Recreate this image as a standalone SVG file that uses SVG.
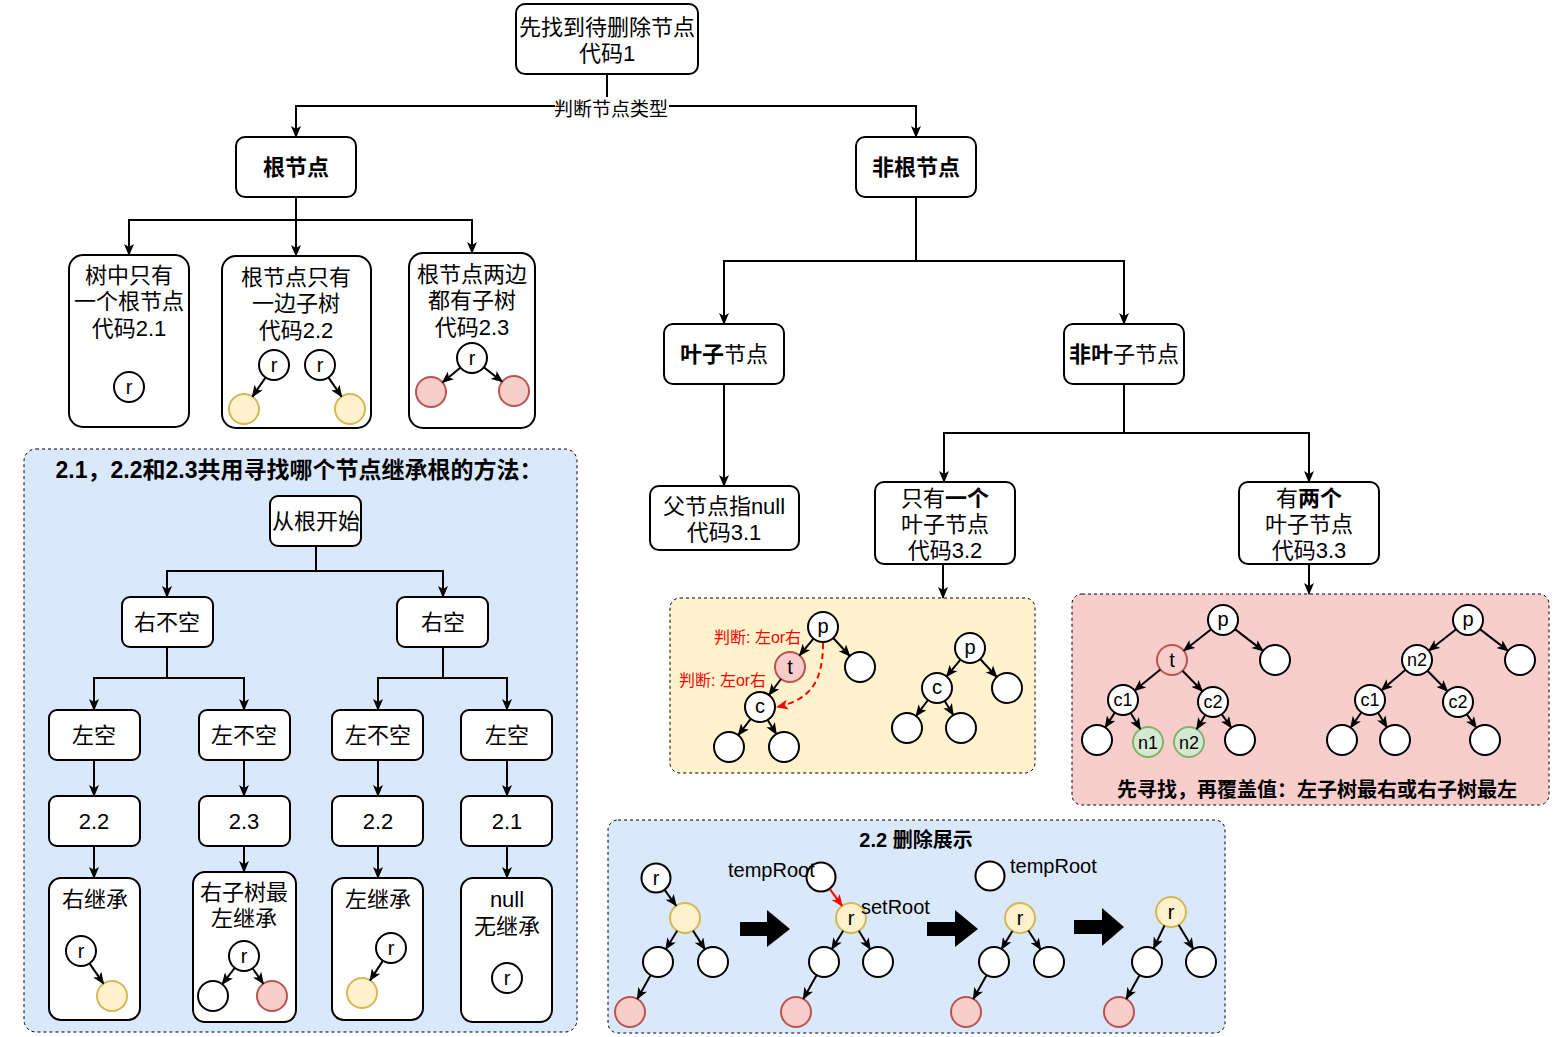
<svg xmlns="http://www.w3.org/2000/svg" width="1556" height="1037" viewBox="0 0 1556 1037">
<defs>
<marker id="arr" markerUnits="userSpaceOnUse" markerWidth="12" markerHeight="10" viewBox="0 0 12 10" refX="11" refY="5" orient="auto"><path d="M0,0 L12,5 L0,10 L3,5 z" fill="#000"/></marker>
<marker id="arrRed" markerUnits="userSpaceOnUse" markerWidth="12" markerHeight="10" viewBox="0 0 12 10" refX="11" refY="5" orient="auto"><path d="M0,0 L12,5 L0,10 L3,5 z" fill="#ff0000"/></marker>
<style>
.box{fill:#fff;stroke:#000;stroke-width:2}
.t{font-family:"Liberation Sans","Noto Sans CJK SC",sans-serif;font-size:22px;text-anchor:middle;dominant-baseline:central;fill:#000}
.s{font-size:20px}
.xs{font-size:18px}
.b{font-weight:bold}
.st{text-anchor:start}
.red{fill:#ff0000;font-size:16px}
.edge{fill:none;stroke:#000;stroke-width:2;marker-end:url(#arr)}
.redge{fill:none;stroke:#ff0000;stroke-width:2;marker-end:url(#arrRed)}
.nd{fill:#fff;stroke:#000;stroke-width:2}
.yl{fill:#fff2cc;stroke:#d6b656;stroke-width:2}
.pk{fill:#f8cecc;stroke:#b85450;stroke-width:2}
.gr{fill:#d5e8d4;stroke:#82b366;stroke-width:2}
.panel{stroke:#000;stroke-width:1;stroke-dasharray:3 3}
</style>
</defs>
<rect width="1556" height="1037" fill="#fff"/>

<!-- panels -->
<g id="panel-common"><rect class="panel" x="24" y="449" width="553" height="583" rx="12" fill="#dae8fc"/>
<text class="t b" x="299" y="470" style="font-size:23px">2.1，2.2和2.3共用寻找哪个节点继承根的方法：</text></g>
<g id="panel-one"><rect class="panel" x="670" y="598" width="365" height="175" rx="10" fill="#fff2cc"/></g>
<g id="panel-two"><rect class="panel" x="1072" y="594" width="477" height="211" rx="10" fill="#f8cecc"/>
<text class="t b" x="1317" y="790" style="font-size:20px">先寻找，再覆盖值：左子树最右或右子树最左</text></g>
<g id="panel-demo"><rect class="panel" x="608" y="820" width="617" height="213" rx="10" fill="#dae8fc"/>
<text class="t b" x="916" y="840" style="font-size:20px">2.2 删除展示</text></g>

<!-- main flow nodes -->
<g id="n-start"><rect class="box" x="516" y="4" width="182" height="70" rx="9"/><text class="t" x="607" y="27">先找到待删除节点</text><text class="t" x="607" y="53">代码1</text></g>
<g id="n-root"><rect class="box" x="236" y="137" width="120" height="60" rx="9"/><text class="t b" x="296" y="167">根节点</text></g>
<g id="n-nonroot"><rect class="box" x="856" y="137" width="120" height="60" rx="9"/><text class="t b" x="916" y="167">非根节点</text></g>
<g id="n-21"><rect class="box" x="69" y="255" width="120" height="172" rx="14"/><text class="t" x="129" y="275">树中只有</text><text class="t" x="129" y="301">一个根节点</text><text class="t" x="129" y="328">代码2.1</text><circle class="nd" cx="129" cy="387" r="15"/><text class="t s" x="129" y="387">r</text></g>
<g id="n-22"><rect class="box" x="222" y="256" width="149" height="172" rx="14"/><text class="t" x="296" y="277">根节点只有</text><text class="t" x="296" y="303">一边子树</text><text class="t" x="296" y="330">代码2.2</text>
<circle class="nd" cx="274" cy="365" r="15"/><text class="t s" x="274" y="365">r</text><circle class="nd" cx="320" cy="365" r="15"/><text class="t s" x="320" y="365">r</text>
<circle class="yl" cx="244" cy="409" r="15"/><circle class="yl" cx="350" cy="409" r="15"/></g>
<g id="n-23"><rect class="box" x="409" y="253" width="126" height="175" rx="14"/><text class="t" x="472" y="274">根节点两边</text><text class="t" x="472" y="300">都有子树</text><text class="t" x="472" y="327">代码2.3</text>
<circle class="nd" cx="472" cy="358" r="15"/><text class="t s" x="472" y="358">r</text><circle class="pk" cx="431" cy="392" r="15"/><circle class="pk" cx="514" cy="391" r="15"/></g>
<g id="n-leaf"><rect class="box" x="664" y="324" width="120" height="60" rx="9"/><text class="t" x="724" y="354"><tspan class="b">叶子</tspan>节点</text></g>
<g id="n-nonleaf"><rect class="box" x="1064" y="324" width="120" height="60" rx="9"/><text class="t" x="1124" y="354"><tspan class="b">非叶</tspan>子节点</text></g>
<g id="n-31"><rect class="box" x="650" y="486" width="149" height="64" rx="9"/><text class="t" x="724" y="506">父节点指null</text><text class="t" x="724" y="532">代码3.1</text></g>
<g id="n-32"><rect class="box" x="875" y="482" width="140" height="82" rx="9"/><text class="t" x="945" y="498">只有<tspan class="b">一个</tspan></text><text class="t" x="945" y="524">叶子节点</text><text class="t" x="945" y="550">代码3.2</text></g>
<g id="n-33"><rect class="box" x="1239" y="482" width="140" height="82" rx="9"/><text class="t" x="1309" y="498">有<tspan class="b">两个</tspan></text><text class="t" x="1309" y="524">叶子节点</text><text class="t" x="1309" y="550">代码3.3</text></g>

<!-- left panel nodes -->
<g id="c-from"><rect class="box" x="270" y="496" width="91" height="50" rx="8"/><text class="t" x="316" y="521">从根开始</text></g>
<g id="c-rnot"><rect class="box" x="122" y="597" width="91" height="50" rx="8"/><text class="t" x="167" y="622">右不空</text></g>
<g id="c-r"><rect class="box" x="397" y="597" width="91" height="50" rx="8"/><text class="t" x="443" y="622">右空</text></g>
<g id="c-a1"><rect class="box" x="49" y="710" width="91" height="50" rx="8"/><text class="t" x="94" y="735">左空</text></g>
<g id="c-a2"><rect class="box" x="199" y="710" width="91" height="50" rx="8"/><text class="t" x="244" y="735">左不空</text></g>
<g id="c-a3"><rect class="box" x="332" y="710" width="91" height="50" rx="8"/><text class="t" x="378" y="735">左不空</text></g>
<g id="c-a4"><rect class="box" x="461" y="710" width="91" height="50" rx="8"/><text class="t" x="507" y="735">左空</text></g>
<g id="c-b1"><rect class="box" x="49" y="796" width="91" height="50" rx="8"/><text class="t" x="94" y="821">2.2</text></g>
<g id="c-b2"><rect class="box" x="199" y="796" width="91" height="50" rx="8"/><text class="t" x="244" y="821">2.3</text></g>
<g id="c-b3"><rect class="box" x="332" y="796" width="91" height="50" rx="8"/><text class="t" x="378" y="821">2.2</text></g>
<g id="c-b4"><rect class="box" x="461" y="796" width="91" height="50" rx="8"/><text class="t" x="507" y="821">2.1</text></g>
<g id="c-c1"><rect class="box" x="49" y="878" width="91" height="142" rx="12"/><text class="t" x="95" y="899">右继承</text>
<circle class="nd" cx="81" cy="951" r="15"/><text class="t s" x="81" y="951">r</text><circle class="yl" cx="112" cy="996" r="15"/></g>
<g id="c-c2"><rect class="box" x="193" y="872" width="103" height="150" rx="12"/><text class="t" x="244" y="892">右子树最</text><text class="t" x="244" y="918">左继承</text>
<circle class="nd" cx="244" cy="956" r="15"/><text class="t s" x="244" y="956">r</text><circle class="nd" cx="213" cy="996" r="15"/><circle class="pk" cx="272" cy="996" r="15"/></g>
<g id="c-c3"><rect class="box" x="332" y="878" width="91" height="142" rx="12"/><text class="t" x="378" y="899">左继承</text>
<circle class="nd" cx="391" cy="948" r="15"/><text class="t s" x="391" y="948">r</text><circle class="yl" cx="362" cy="993" r="15"/></g>
<g id="c-c4"><rect class="box" x="461" y="878" width="91" height="144" rx="12"/><text class="t" x="507" y="899">null</text><text class="t" x="507" y="926">无继承</text>
<circle class="nd" cx="507" cy="978" r="15"/><text class="t s" x="507" y="978">r</text></g>

<!-- yellow panel trees -->
<g id="y-p"><circle class="nd" cx="823" cy="627" r="15"/><text class="t s" x="823" y="626">p</text></g>
<g id="y-t"><circle class="pk" cx="790" cy="667" r="15"/><text class="t s" x="790" y="667">t</text></g>
<g id="y-pr"><circle class="nd" cx="860" cy="667" r="15"/></g>
<g id="y-c"><circle class="nd" cx="760" cy="707" r="15"/><text class="t s" x="760" y="706">c</text></g>
<g id="y-cl"><circle class="nd" cx="729" cy="747" r="15"/></g>
<g id="y-cr"><circle class="nd" cx="784" cy="747" r="15"/></g>
<g id="y-l1"><text class="t red st" x="714" y="637">判断: 左or右</text></g>
<g id="y-l2"><text class="t red st" x="679" y="680">判断: 左or右</text></g>
<g id="y2-p"><circle class="nd" cx="970" cy="648" r="15"/><text class="t s" x="970" y="647">p</text></g>
<g id="y2-c"><circle class="nd" cx="937" cy="688" r="15"/><text class="t s" x="937" y="687">c</text></g>
<g id="y2-pr"><circle class="nd" cx="1007" cy="688" r="15"/></g>
<g id="y2-cl"><circle class="nd" cx="907" cy="728" r="15"/></g>
<g id="y2-cr"><circle class="nd" cx="961" cy="728" r="15"/></g>

<!-- pink panel trees -->
<g id="k-p"><circle class="nd" cx="1223" cy="620" r="15"/><text class="t s" x="1223" y="619">p</text></g>
<g id="k-t"><circle cx="1172" cy="660" r="15" fill="#f8cecc" stroke="#b85450" stroke-width="2"/><text class="t s" x="1172" y="660">t</text></g>
<g id="k-pr"><circle class="nd" cx="1275" cy="660" r="15"/></g>
<g id="k-c1"><circle class="nd" cx="1123" cy="700" r="15"/><text class="t xs" x="1123" y="700">c1</text></g>
<g id="k-c2"><circle class="nd" cx="1213" cy="702" r="15"/><text class="t xs" x="1213" y="702">c2</text></g>
<g id="k-l1"><circle class="nd" cx="1097" cy="740" r="15"/></g>
<g id="k-n1"><circle class="gr" cx="1148" cy="742" r="15"/><text class="t xs" x="1148" y="743">n1</text></g>
<g id="k-n2"><circle class="gr" cx="1189" cy="742" r="15"/><text class="t xs" x="1189" y="743">n2</text></g>
<g id="k-l4"><circle class="nd" cx="1240" cy="740" r="15"/></g>
<g id="k2-p"><circle class="nd" cx="1468" cy="620" r="15"/><text class="t s" x="1468" y="619">p</text></g>
<g id="k2-n2"><circle class="nd" cx="1417" cy="660" r="15"/><text class="t xs" x="1417" y="660">n2</text></g>
<g id="k2-pr"><circle class="nd" cx="1520" cy="660" r="15"/></g>
<g id="k2-c1"><circle class="nd" cx="1370" cy="700" r="15"/><text class="t xs" x="1370" y="700">c1</text></g>
<g id="k2-c2"><circle class="nd" cx="1458" cy="702" r="15"/><text class="t xs" x="1458" y="702">c2</text></g>
<g id="k2-l1"><circle class="nd" cx="1342" cy="740" r="15"/></g>
<g id="k2-l2"><circle class="nd" cx="1395" cy="740" r="15"/></g>
<g id="k2-l3"><circle class="nd" cx="1485" cy="740" r="15"/></g>

<!-- demo panel -->
<g id="d1-r"><circle class="nd" cx="656" cy="878" r="14.5"/><text class="t s" x="656" y="878">r</text></g>
<g id="d1-y"><circle class="yl" cx="685" cy="918" r="15"/></g>
<g id="d1-a"><circle class="nd" cx="658" cy="962" r="15"/></g>
<g id="d1-b"><circle class="nd" cx="713" cy="962" r="15"/></g>
<g id="d1-c"><circle class="pk" cx="630" cy="1012" r="15"/></g>
<g id="arrow1"><polygon points="740,922 767,922 767,910 790,929 767,947 767,936 740,936" fill="#000"/></g>
<g id="d2-tmp"><circle class="nd" cx="821" cy="877" r="14.5"/><text class="t s st" x="728" y="870">tempRoot</text></g>
<g id="d2-r"><circle class="yl" cx="851" cy="918" r="15"/><text class="t s" x="851" y="918">r</text><text class="t s st" x="861" y="907">setRoot</text></g>
<g id="d2-a"><circle class="nd" cx="824" cy="962" r="15"/></g>
<g id="d2-b"><circle class="nd" cx="878" cy="962" r="15"/></g>
<g id="d2-c"><circle class="pk" cx="796" cy="1012" r="15"/></g>
<g id="arrow2"><polygon points="927,922 955,922 955,910 978,929 955,947 955,936 927,936" fill="#000"/></g>
<g id="d3-tmp"><circle class="nd" cx="990" cy="876" r="14.5"/><text class="t s st" x="1010" y="866">tempRoot</text></g>
<g id="d3-r"><circle class="yl" cx="1020" cy="918" r="15"/><text class="t s" x="1020" y="918">r</text></g>
<g id="d3-a"><circle class="nd" cx="994" cy="962" r="15"/></g>
<g id="d3-b"><circle class="nd" cx="1049" cy="962" r="15"/></g>
<g id="d3-c"><circle class="pk" cx="966" cy="1012" r="15"/></g>
<g id="arrow3"><polygon points="1074,920 1102,920 1102,908 1124,927 1102,946 1102,934 1074,934" fill="#000"/></g>
<g id="d4-r"><circle class="yl" cx="1171" cy="912" r="15"/><text class="t s" x="1171" y="912">r</text></g>
<g id="d4-a"><circle class="nd" cx="1147" cy="962" r="15"/></g>
<g id="d4-b"><circle class="nd" cx="1201" cy="962" r="15"/></g>
<g id="d4-c"><circle class="pk" cx="1119" cy="1012" r="15"/></g>

<!-- connectors -->
<g id="connectors">
<path class="edge" d="M607,74 V106 H296 V137"/>
<path class="edge" d="M607,106 H916 V137"/>
<path class="edge" d="M296,197 V220 H129 V255"/>
<path class="edge" d="M296,220 V256"/>
<path class="edge" d="M296,220 H472 V253"/>
<path class="edge" d="M916,197 V261 H724 V324"/>
<path class="edge" d="M916,261 H1124 V324"/>
<path class="edge" d="M724,384 V486"/>
<path class="edge" d="M1124,384 V433 H944 V482"/>
<path class="edge" d="M1124,433 H1309 V482"/>
<path class="edge" d="M943,564 V598"/>
<path class="edge" d="M1309,564 V594"/>
<path class="edge" d="M316,546 V571 H167 V597"/>
<path class="edge" d="M316,571 H443 V597"/>
<path class="edge" d="M167,647 V678 H94 V710"/>
<path class="edge" d="M167,678 H244 V710"/>
<path class="edge" d="M443,647 V678 H378 V710"/>
<path class="edge" d="M443,678 H507 V710"/>
<path class="edge" d="M94,760 V796"/>
<path class="edge" d="M244,760 V796"/>
<path class="edge" d="M378,760 V796"/>
<path class="edge" d="M507,760 V796"/>
<path class="edge" d="M94,846 V878"/>
<path class="edge" d="M244,846 V872"/>
<path class="edge" d="M378,846 V878"/>
<path class="edge" d="M507,846 V878"/>
<path class="edge" d="M265.6,377.4 L252.4,396.6"/>
<path class="edge" d="M328.4,377.4 L341.6,396.6"/>
<path class="edge" d="M460.5,367.6 L442.5,382.4"/>
<path class="edge" d="M483.8,367.3 L502.2,381.7"/>
<path class="edge" d="M89.5,963.4 L103.5,983.6"/>
<path class="edge" d="M234.8,967.9 L222.2,984.1"/>
<path class="edge" d="M252.6,968.3 L263.4,983.7"/>
<path class="edge" d="M382.9,960.6 L370.1,980.4"/>
<path class="edge" d="M813.5,638.6 L799.5,655.4"/>
<path class="edge" d="M833.2,638 L849.8,656"/>
<path class="edge" d="M781,679 L769,695"/>
<path class="edge" d="M750.8,718.9 L738.2,735.1"/>
<path class="edge" d="M767.7,719.9 L776.3,734.1"/>
<path class="edge" d="M960.5,659.6 L946.5,676.4"/>
<path class="edge" d="M980.2,659 L996.8,677"/>
<path class="edge" d="M928,700 L916,716"/>
<path class="edge" d="M944.7,700.9 L953.3,715.1"/>
<path class="redge" style="stroke-dasharray:6 4" d="M823,643 C823,685 808,700 777,707"/>
<path class="edge" d="M1211.2,629.3 L1183.8,650.7"/>
<path class="edge" d="M1234.9,629.1 L1263.1,650.9"/>
<path class="edge" d="M1160.4,669.5 L1134.6,690.5"/>
<path class="edge" d="M1182.5,670.7 L1202.5,691.3"/>
<path class="edge" d="M1114.8,712.6 L1105.2,727.4"/>
<path class="edge" d="M1130.7,712.9 L1140.3,729.1"/>
<path class="edge" d="M1205.3,714.9 L1196.7,729.1"/>
<path class="edge" d="M1221.7,714.2 L1231.3,727.8"/>
<path class="edge" d="M1456.2,629.3 L1428.8,650.7"/>
<path class="edge" d="M1479.9,629.1 L1508.1,650.9"/>
<path class="edge" d="M1405.6,669.7 L1381.4,690.3"/>
<path class="edge" d="M1427.5,670.7 L1447.5,691.3"/>
<path class="edge" d="M1361.4,712.3 L1350.6,727.7"/>
<path class="edge" d="M1378,712.7 L1387,727.3"/>
<path class="edge" d="M1466.7,714.2 L1476.3,727.8"/>
<path class="edge" d="M664.8,890.2 L676.2,905.8"/>
<path class="edge" d="M677.2,930.8 L665.8,949.2"/>
<path class="edge" d="M693,930.6 L705,949.4"/>
<path class="edge" d="M650.7,975.1 L637.3,998.9"/>
<path class="redge" d="M829.9,889.1 L842.1,905.9"/>
<path class="edge" d="M843.2,930.8 L831.8,949.2"/>
<path class="edge" d="M858.8,930.8 L870.2,949.2"/>
<path class="edge" d="M816.7,975.1 L803.3,998.9"/>
<path class="edge" d="M1012.4,930.9 L1001.6,949.1"/>
<path class="edge" d="M1028.3,930.5 L1040.7,949.5"/>
<path class="edge" d="M986.7,975.1 L973.3,998.9"/>
<path class="edge" d="M1164.5,925.5 L1153.5,948.5"/>
<path class="edge" d="M1178.7,924.9 L1193.3,949.1"/>
<path class="edge" d="M1139.7,975.1 L1126.3,998.9"/>
<rect x="555" y="97" width="114" height="23" fill="#fff"/>
<text class="t" x="611" y="109" style="font-size:19px">判断节点类型</text>
</g>
</svg>
